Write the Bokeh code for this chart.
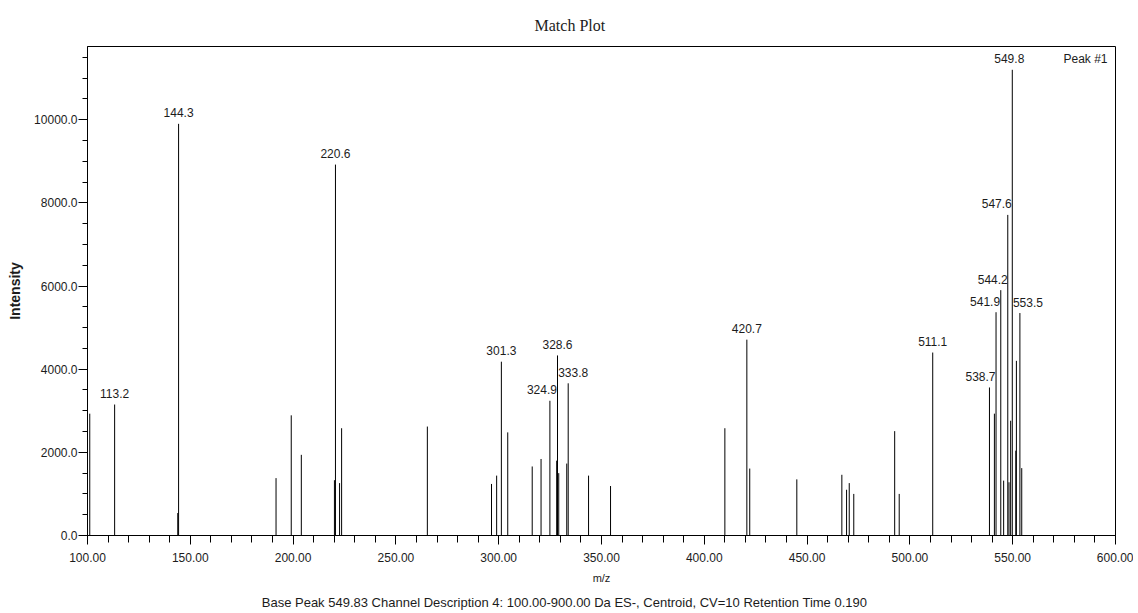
from bokeh.plotting import figure
from bokeh.models import (ColumnDataSource, Range1d, SingleIntervalTicker,
                          NumeralTickFormatter, Title, LinearAxis, FixedTicker)
from bokeh.core.properties import value
from bokeh.embed import file_html
from bokeh.resources import INLINE

# ---------------- data ----------------
mz = [101.1, 113.2, 143.9, 144.3, 191.7, 199.1, 204.0, 220.1, 220.6, 222.6,
      223.6, 265.3, 296.5, 299.0, 301.3, 304.4, 316.3, 320.6, 324.9, 328.2,
      328.6, 329.2, 333.1, 333.8, 343.7, 354.4, 410.0, 420.7, 422.1, 445.0,
      466.9, 469.2, 470.5, 472.7, 492.6, 494.8, 511.1, 538.7, 541.1, 541.9,
      544.2, 545.6, 547.6, 548.2, 549.0, 549.8, 551.5, 551.8, 553.5, 554.4]
intensity = [2930, 3150, 540, 9900, 1380, 2890, 1940, 1330, 8920, 1260,
             2580, 2620, 1240, 1440, 4180, 2480, 1660, 1840, 3240, 1800,
             4330, 1500, 1730, 3660, 1440, 1190, 2580, 4710, 1610, 1350,
             1460, 1100, 1260, 1000, 2510, 1000, 4400, 3560, 2930, 5370,
             5900, 1320, 7710, 1280, 2760, 11200, 2040, 4200, 5350, 1620]
labeled_mz = [113.2, 144.3, 220.6, 301.3, 324.9, 328.6, 333.8, 420.7, 511.1,
              538.7, 541.9, 544.2, 547.6, 549.8, 553.5]

title_text = "Match Plot"
x_label = "m/z"
y_label = "Intensity"
footer_text = ("Base Peak 549.83 Channel Description 4: 100.00-900.00 Da ES-, "
               "Centroid, CV=10 Retention Time 0.190")
corner_text = "Peak #1"
x_start, x_end = 100, 600
y_start, y_end = 0, 11760

# label nudges in screen pixels (layout only)
label_dx = {324.9: -8, 333.8: 5, 538.7: -9, 541.9: -11, 544.2: -8,
            547.6: -11, 549.8: -3, 553.5: 8}

FONT = "Liberation Sans"
TXT = "#1c1c1c"
FRAME_W = 1028
FOOTER_CENTER_PX = 477  # footer centre, pixels right of the frame's left edge

p = figure(width=1133, height=613, output_backend="svg", toolbar_location=None,
           x_range=Range1d(x_start, x_end), y_range=Range1d(y_start, y_end),
           min_border_left=87, min_border_right=18, min_border_top=46,
           min_border_bottom=78, background_fill_color="white",
           border_fill_color="white")

p.title = Title(text=title_text, align="left", offset=447,
                text_font="Liberation Serif", text_font_size="16px",
                text_font_style="normal", text_color=TXT, standoff=26)

p.grid.visible = False
p.outline_line_color = "black"
p.outline_line_width = 1

# spectrum sticks
src = ColumnDataSource(dict(x=mz, y0=[0] * len(mz), y1=intensity))
p.segment(x0="x", y0="y0", x1="x", y1="y1", source=src,
          line_color="black", line_width=1)

# peak labels
lab_y = [intensity[mz.index(v)] for v in labeled_mz]
lsrc = ColumnDataSource(dict(x=labeled_mz, y=lab_y,
                             t=[f"{v:.1f}" for v in labeled_mz],
                             dx=[label_dx.get(v, 0) for v in labeled_mz]))
p.text(x="x", y="y", text="t", source=lsrc, x_offset="dx", y_offset=-11,
       text_align="center", text_baseline="middle",
       text_font=value(FONT), text_font_size="12px", text_color=TXT)

p.text(x=[x_end], y=[y_end], text=[corner_text], x_offset=-8, y_offset=12,
       text_align="right", text_baseline="middle",
       text_font=value(FONT), text_font_size="12px", text_color=TXT)

# axes
xa = p.xaxis[0]
xa.ticker = SingleIntervalTicker(interval=50, num_minor_ticks=5)
xa.formatter = NumeralTickFormatter(format="0.00")
ya = p.yaxis[0]
ya.ticker = SingleIntervalTicker(interval=2000, num_minor_ticks=4)
ya.formatter = NumeralTickFormatter(format="0.0")

for ax in (xa, ya):
    ax.axis_line_color = "black"
    ax.major_tick_line_color = "black"
    ax.minor_tick_line_color = "black"
    ax.major_tick_in = 0
    ax.minor_tick_in = 0
    ax.major_tick_out = 9
    ax.major_label_text_font = FONT
    ax.major_label_text_font_size = "12px"
    ax.major_label_text_color = TXT
    ax.axis_label_text_font = FONT
    ax.axis_label_text_color = TXT

xa.minor_tick_out = 7
ya.minor_tick_out = 5
xa.axis_label = x_label
ya.axis_label = y_label
xa.axis_label_text_font_size = "11px"
xa.axis_label_text_font_style = "normal"
ya.axis_label_text_font_size = "14px"
ya.axis_label_text_font_style = "bold"
xa.major_label_standoff = 8
ya.major_label_standoff = 1
xa.axis_label_standoff = 7
ya.axis_label_standoff = 8

# footer line: a tick-less axis below the x axis whose single tick label
# carries the footer text at the wanted horizontal position
foot_x = x_start + FOOTER_CENTER_PX * (x_end - x_start) / FRAME_W
foot = LinearAxis(ticker=FixedTicker(ticks=[foot_x], minor_ticks=[]),
                  major_label_overrides={foot_x: footer_text},
                  axis_line_color=None, major_tick_line_color=None,
                  minor_tick_line_color=None, major_tick_out=0,
                  minor_tick_out=0, major_tick_in=0, minor_tick_in=0,
                  major_label_standoff=8, major_label_text_font=FONT,
                  major_label_text_font_size="13px",
                  major_label_text_color=TXT)
p.add_layout(foot, "below")

open("out.html", "w").write(file_html(p, INLINE))
